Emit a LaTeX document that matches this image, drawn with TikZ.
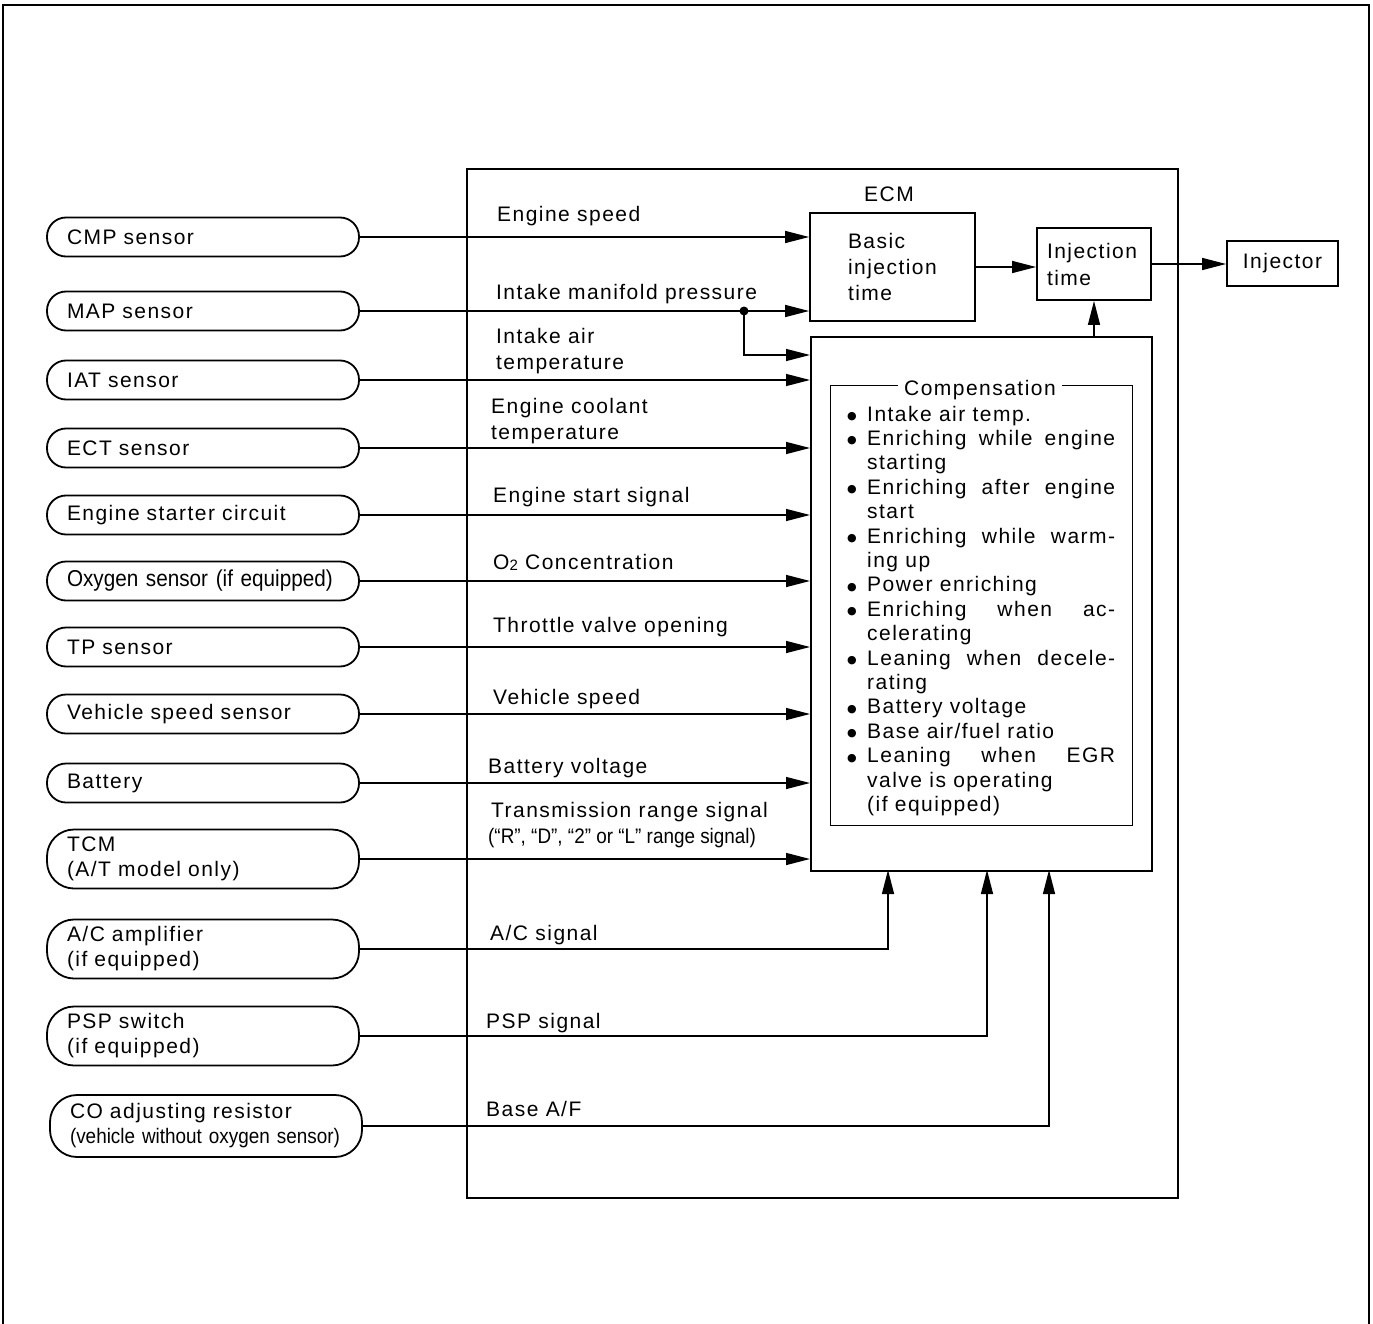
\documentclass[tikz,border=0pt]{standalone}
\usepackage{fontspec}
\setmainfont{Liberation Sans}[LetterSpace=7]
\newfontfamily\narrowfont{Liberation Sans}[FakeStretch=0.9]
\newfontfamily\dejavu{DejaVu Sans}
\usetikzlibrary{arrows.meta,calc}
\newcommand\cbul{\makebox[19pt][l]{\hspace{-1pt}\raisebox{1.5pt}{\dejavu\fontsize{11}{11}\selectfont ●}}}
\newcommand\cind{\hspace*{19pt}}
\newcommand\cjust[1]{\makebox[248pt][s]{#1}}
\begin{document}
\begin{tikzpicture}[x=1pt,y=-1pt,
  font=\fontsize{21}{25}\selectfont,
  sensor/.style={draw, line width=1.8pt, rounded corners=19pt, minimum height=39pt,
    text width=272pt, inner xsep=20pt, inner ysep=0pt, align=left},
  sensor2/.style={sensor, minimum height=59pt, rounded corners=27pt},
  box/.style={draw, line width=1.8pt},
  sig/.style={line width=1.4pt, -{Triangle[length=24pt,width=12pt]}},
  lbl/.style={anchor=base west, inner sep=0pt}]
\useasboundingbox (0,0) rectangle (1373,1324);
% outer frame (open at the bottom)
\draw[line width=2pt] (3,1324) -- (3,5) -- (1369,5) -- (1369,1324);

% sensors
\node[sensor] (cmp) at (203,237) {CMP sensor};
\node[sensor] (map) at (203,311) {MAP sensor};
\node[sensor] (iat) at (203,380) {IAT sensor};
\node[sensor] (ect) at (203,448) {ECT sensor};
\node[sensor] (start) at (203,515) {Engine starter circuit};
\node[sensor, font=\narrowfont\fontsize{23}{25}\selectfont] (oxy) at (203,581) {Oxygen sensor (if equipped)};
\node[sensor] (tp) at (203,647) {TP sensor};
\node[sensor] (vss) at (203,714) {Vehicle speed sensor};
\node[sensor] (bat) at (203,783) {Battery};
\node[sensor2] (tcm) at (203,859) {TCM\\(A/T model only)};
\node[sensor2] (ac) at (203,949) {A/C amplifier\\(if equipped)};
\node[sensor2] (psp) at (203,1036) {PSP switch\\(if equipped)};
\node[sensor2, minimum height=62pt] (co) at (206,1126) {CO adjusting resistor\\{\narrowfont\fontsize{21}{25}\selectfont (vehicle without oxygen sensor)}};

% ECM
\node[box, minimum width=711pt, minimum height=1029pt, anchor=north west, inner sep=0pt] (ecm) at (466,168) {};
\node[anchor=base, inner sep=0pt] (ecmlbl) at (889,202) {ECM};
\node[box, minimum width=165pt, minimum height=108pt, text width=89pt, align=left, inner sep=0pt,
  font=\fontsize{21}{26}\selectfont] (basic) at (892.5,267) {Basic\\injection\\time};
\node[box, minimum width=114pt, minimum height=72pt, text width=94pt, align=left, inner sep=0pt,
  font=\fontsize{21}{27}\selectfont] (injt) at (1094,264) {Injection\\time};
\node[box, minimum width=111pt, minimum height=45pt, inner sep=0pt] (inj) at (1282.5,263.5) {Injector};
\node[box, minimum width=341pt, minimum height=534pt, anchor=north west, inner sep=0pt] (comp) at (810,336) {};
\node[draw, line width=1.4pt, minimum width=302pt, minimum height=440pt, anchor=north west, inner sep=0pt] (cframe) at (830,385) {};
\node[fill=white, inner xsep=6pt, inner ysep=1pt, anchor=base] (ctitle) at (980,395) {Compensation};
\node[anchor=base west, inner sep=0pt, font=\fontsize{21}{24.4}\selectfont] (items) at (848,421) {%
\begin{tabular}[t]{@{}l@{}}
\cbul Intake air temp.\\
\cbul \cjust{Enriching while engine}\\
\cind starting\\
\cbul \cjust{Enriching after engine}\\
\cind start\\
\cbul \cjust{Enriching while warm-}\\
\cind ing up\\
\cbul Power enriching\\
\cbul \cjust{Enriching when ac-}\\
\cind celerating\\
\cbul \cjust{Leaning when decele-}\\
\cind rating\\
\cbul Battery voltage\\
\cbul Base air/fuel ratio\\
\cbul \cjust{Leaning when EGR}\\
\cind valve is operating\\
\cind (if equipped)
\end{tabular}};

% internal arrows
\draw[sig] (basic.east) -- (basic.east -| injt.west);
\draw[sig] (injt.east) -- (injt.east -| inj.west);
\draw[sig] (comp.north -| injt.south) -- (injt.south);

% signal lines
\draw[sig] (cmp.east) -- (cmp.east -| basic.west);
\draw[sig] (map.east) -- (map.east -| basic.west);
\coordinate (mapdot) at (744,311);
\coordinate (compmap) at (810,355);
\fill (mapdot) circle (4.5pt);
\draw[sig] (mapdot) |- (compmap);
\foreach \n in {iat,ect,start,oxy,tp,vss,bat,tcm}
  \draw[sig] (\n.east) -- (\n.east -| comp.west);
\coordinate (acin) at (888,870);
\coordinate (pspin) at (987,870);
\coordinate (coin) at (1049,870);
\draw[sig] (ac.east) -| (acin);
\draw[sig] (psp.east) -| (pspin);
\draw[sig] (co.east) -| (coin);

% signal labels
\node[lbl] (l1) at (497,222) {Engine speed};
\node[lbl] (l2) at (496,300) {Intake manifold pressure};
\node[lbl] (l3a) at (496,343) {Intake air};
\node[lbl] (l3b) at (496,369) {temperature};
\node[lbl] (l4a) at (491,413) {Engine coolant};
\node[lbl] (l4b) at (491,439) {temperature};
\node[lbl] (l5) at (493,502) {Engine start signal};
\node[lbl] (l6) at (493,569) {O\raisebox{-1pt}{\fontsize{15}{15}\selectfont 2} Concentration};
\node[lbl] (l7) at (493,632) {Throttle valve opening};
\node[lbl] (l8) at (493,704) {Vehicle speed};
\node[lbl] (l9) at (488,773) {Battery voltage};
\node[lbl] (l10a) at (491,817) {Transmission range signal};
\node[lbl, font=\narrowfont\fontsize{21}{22}\selectfont] (l10b) at (488,843) {(“R”, “D”, “2” or “L” range signal)};
\node[lbl] (l11) at (490,940) {A/C signal};
\node[lbl] (l12) at (486,1028) {PSP signal};
\node[lbl] (l13) at (486,1116) {Base A/F};
\end{tikzpicture}
\end{document}
